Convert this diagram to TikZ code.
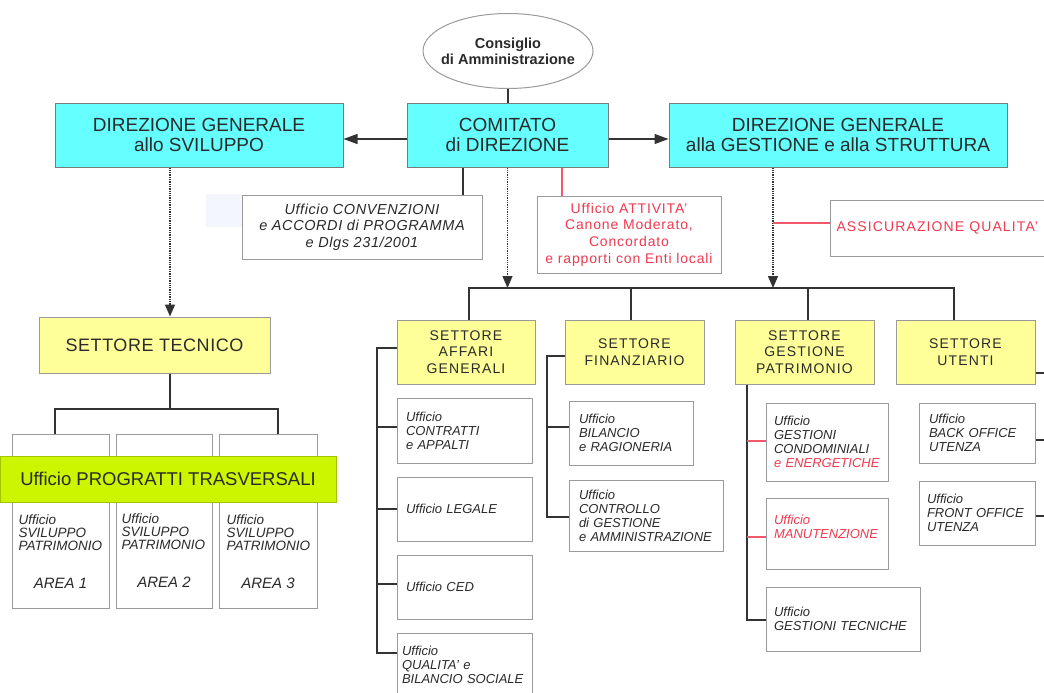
\documentclass[tikz,border=0pt]{standalone}
\usepackage{fontspec}
\setmainfont{Liberation Sans}
\usetikzlibrary{arrows.meta,shapes.geometric}
\definecolor{cy}{HTML}{66FFFF}
\definecolor{yl}{HTML}{FFFF99}
\definecolor{gr}{HTML}{CCF500}
\definecolor{rd}{HTML}{F03A50}
\definecolor{bd}{HTML}{9A9A9A}
\definecolor{tx}{HTML}{2A2A2A}
\definecolor{ln}{HTML}{333333}
\definecolor{faint}{HTML}{F4F6FD}
\begin{document}
\begin{tikzpicture}[x=1pt,y=-1pt,
  box/.style={draw=bd, line width=1pt, inner sep=0pt, align=center, text=tx},
  cbox/.style={box, fill=cy, draw=bd!80!black, minimum height=64pt, font=\fontsize{19}{20}\selectfont},
  ybox/.style={box, fill=yl, minimum width=139pt, minimum height=64pt, font=\fontsize{14}{16.7}\selectfont\addfontfeature{LetterSpace=8}},
  sub/.style={box, fill=white, inner xsep=9pt, align=left, font=\itshape\fontsize{13}{14}\selectfont},
  abox/.style={box, fill=white, minimum height=174pt},
  atext/.style={inner sep=0pt, anchor=north west, align=left, text=tx, font=\itshape\fontsize{13.5}{13}\selectfont},
  alabel/.style={inner sep=0pt, text=tx, font=\itshape\fontsize{15}{17}\selectfont},
  conn/.style={draw=ln, line width=1.3pt},
  redl/.style={draw=rd!85, line width=1.2pt},
  arr/.style={draw=ln, line width=1.3pt, -{Triangle[length=14pt,width=10pt]}},
  dotarr/.style={draw=ln, line width=1.3pt, densely dotted, -{Triangle[length=12pt,width=10pt]}}
]
\useasboundingbox (0,0) rectangle (1044,693);
\clip (0,0) rectangle (1044,693);
\fill[white] (0,0) rectangle (1044,693);
\fill[faint] (206,194) rectangle (242,227);

% top
\node[ellipse, draw=bd, fill=white, line width=1pt, minimum width=170pt, minimum height=75pt,
      inner xsep=-10pt, inner ysep=0pt,
      align=center, text=tx, font=\bfseries\fontsize{14.5}{16}\selectfont] (cons) at (508,51) {Consiglio\\di Amministrazione};
\node[cbox, minimum width=288pt] (dgs) at (199,135) {DIREZIONE GENERALE\\allo SVILUPPO};
\node[cbox, minimum width=201pt] (comit) at (507.5,135) {COMITATO\\di DIREZIONE};
\node[cbox, minimum width=338pt] (dgg) at (838,135) {DIREZIONE GENERALE\\alla GESTIONE e alla STRUTTURA};

\node[box, fill=white, minimum width=240pt, minimum height=64pt,
      font=\itshape\fontsize{14.5}{16.7}\selectfont\addfontfeature{LetterSpace=4}] (conv) at (362,227)
      {Ufficio CONVENZIONI\\e ACCORDI di PROGRAMMA\\e Dlgs 231/2001};
\node[box, fill=white, text=rd, minimum width=184pt, minimum height=77pt,
      font=\fontsize{14}{16.7}\selectfont\addfontfeature{LetterSpace=6}] (attiv) at (629,234.5)
      {Ufficio ATTIVITA'\\Canone Moderato,\\Concordato\\e rapporti con Enti locali};
\node[box, fill=white, text=rd, anchor=west, inner xsep=6pt, minimum height=56pt,
      font=\fontsize{14}{16.7}\selectfont\addfontfeature{LetterSpace=8}] (assic) at (830,228)
      {ASSICURAZIONE QUALITA'};

% connectors top
\coordinate (xc) at (463,0);
\coordinate (xr) at (562,0);
\coordinate (xg) at (773,0);
\coordinate (rg) at (773,223);
\coordinate (b1) at (469,288);
\coordinate (b2) at (631,288);
\coordinate (b3) at (808,288);
\coordinate (b4) at (954,288);
\draw[conn] (cons.south) -- (comit.north -| cons.south);
\draw[arr] ([yshift=-4pt]comit.west) -- ([yshift=-4pt]dgs.east);
\draw[arr] ([yshift=-4pt]comit.east) -- ([yshift=-4pt]dgg.west);
\draw[conn] (comit.south -| xc) -- (conv.north -| xc);
\draw[redl] (comit.south -| xr) -- (attiv.north -| xr);
\draw[dotarr] (comit.south) -- (comit.south |- b1);
\draw[dotarr] (dgg.south -| xg) -- (b1 -| xg);
\draw[redl] (rg) -- (rg -| assic.west);

% settori
\node[ybox, minimum width=138pt] (ag) at (466,352) {SETTORE\\AFFARI\\GENERALI};
\node[ybox] (fin) at (634.5,352) {SETTORE\\FINANZIARIO};
\node[ybox] (gp) at (804.5,352) {SETTORE\\GESTIONE\\PATRIMONIO};
\node[ybox] (ut) at (965.5,352) {SETTORE\\UTENTI};
\draw[conn] (b1 |- ag.north) -- (b1) -- (b4) -- (b4 |- ut.north);
\draw[conn] (b2) -- (b2 |- fin.north);
\draw[conn] (b3) -- (b3 |- gp.north);

% affari generali
\node[sub, text width=117pt, minimum height=65pt] (contr) at (464.5,430.5) {Ufficio\\CONTRATTI\\e APPALTI};
\node[sub, text width=117pt, minimum height=64pt] (leg) at (464.5,509) {Ufficio LEGALE};
\node[sub, text width=117pt, minimum height=64pt] (ced) at (464.5,587) {Ufficio CED};
\node[sub, text width=125pt, inner xsep=5pt, minimum height=64pt] (qual) at (464.5,665) {Ufficio\\QUALITA' e\\\mbox{BILANCIO SOCIALE}};
\coordinate (sA1) at (377,348);
\coordinate (sA2) at (377,653);
\coordinate (cty) at (377,427);
\coordinate (cedy) at (377,584);
\draw[conn] (ag.west |- sA1) -- (sA1) -- (sA2) -- (sA2 -| qual.west);
\draw[conn] (cty) -- (cty -| contr.west);
\draw[conn] (sA1 |- leg.west) -- (leg.west);
\draw[conn] (cedy) -- (cedy -| ced.west);

% finanziario
\node[sub, text width=104pt, inner xsep=10pt, minimum height=64pt] (bil) at (631,433) {Ufficio\\BILANCIO\\e RAGIONERIA};
\node[sub, text width=134pt, inner xsep=10pt, minimum height=71pt] (ctrl) at (646,515.5) {Ufficio\\CONTROLLO\\di GESTIONE\\e AMMINISTRAZIONE};
\coordinate (sF1) at (547,356);
\coordinate (sF2) at (547,517);
\coordinate (bily) at (547,427);
\draw[conn] (fin.west |- sF1) -- (sF1) -- (sF2) -- (sF2 -| ctrl.west);
\draw[conn] (bily) -- (bily -| bil.west);

% gestione patrimonio
\node[sub, text width=106pt, inner xsep=8pt, minimum height=78pt] (gcond) at (827,442) {Ufficio\\GESTIONI\\CONDOMINIALI\\{\color{rd}e ENERGETICHE}};
\node[sub, text=rd, text width=106pt, inner xsep=8pt, minimum height=71pt] (manut) at (827,533.5) {Ufficio\\MANUTENZIONE\\\mbox{}};
\node[sub, text width=138pt, inner xsep=8pt, minimum height=64pt] (gtec) at (843,619) {Ufficio\\GESTIONI TECNICHE};
\coordinate (sG2) at (747,620);
\coordinate (g1) at (747,441);
\coordinate (g2) at (747,537);
\draw[conn] (gp.south -| sG2) -- (sG2) -- (sG2 -| gtec.west);
\draw[redl] (g1) -- (g1 -| gcond.west);
\draw[redl] (g2) -- (g2 -| manut.west);

% utenti
\node[sub, text width=96pt, inner xsep=10pt, minimum height=60pt] (back) at (977,433) {Ufficio\\BACK OFFICE\\UTENZA};
\node[sub, text width=100pt, inner xsep=8pt, minimum height=64pt] (front) at (977,513) {Ufficio\\FRONT OFFICE\\UTENZA};
\coordinate (e1) at (1050,373);
\coordinate (e2) at (1050,440);
\coordinate (e3) at (1050,516);
\draw[conn] (ut.east |- e1) -- (e1);
\draw[conn] (back.east |- e2) -- (e2);
\draw[conn] (front.east |- e3) -- (e3);

% left side
\node[box, fill=yl, minimum width=231pt, minimum height=56pt,
      font=\fontsize{18}{20}\selectfont\addfontfeature{LetterSpace=3}] (st) at (154.5,345) {SETTORE TECNICO};
\coordinate (xl) at (170,0);
\draw[dotarr] (dgs.south -| xl) -- (st.north -| xl);

\node[abox, minimum width=97pt] (a1) at (60.5,521) {};
\node[abox, minimum width=96pt] (a2) at (164,521) {};
\node[abox, minimum width=98pt] (a3) at (268,521) {};
\coordinate (tb) at (170,409);
\coordinate (tl) at (55,409);
\coordinate (tr) at (278,409);
\draw[conn] (st.south -| tb) -- (tb);
\draw[conn] (a1.north -| tl) -- (tl) -- (tr) -- (a3.north -| tr);

\node[box, fill=gr, draw=gr!80!black, minimum width=336pt, minimum height=46pt,
      font=\fontsize{18.5}{20}\selectfont] (ptr) at (168,479) {Ufficio PROGRATTI TRASVERSALI};

\node[atext] (a1t) at ([xshift=7pt]a1.west |- 0,515) {Ufficio\\SVILUPPO\\PATRIMONIO};
\node[atext] (a2t) at ([xshift=6pt]a2.west |- 0,514) {Ufficio\\SVILUPPO\\PATRIMONIO};
\node[atext] (a3t) at ([xshift=8pt]a3.west |- 0,515) {Ufficio\\SVILUPPO\\PATRIMONIO};
\node[alabel] (a1l) at (a1.center |- 0,583) {AREA 1};
\node[alabel] (a2l) at (a2.center |- 0,582) {AREA 2};
\node[alabel] (a3l) at (a3.center |- 0,583) {AREA 3};
\end{tikzpicture}
\end{document}
